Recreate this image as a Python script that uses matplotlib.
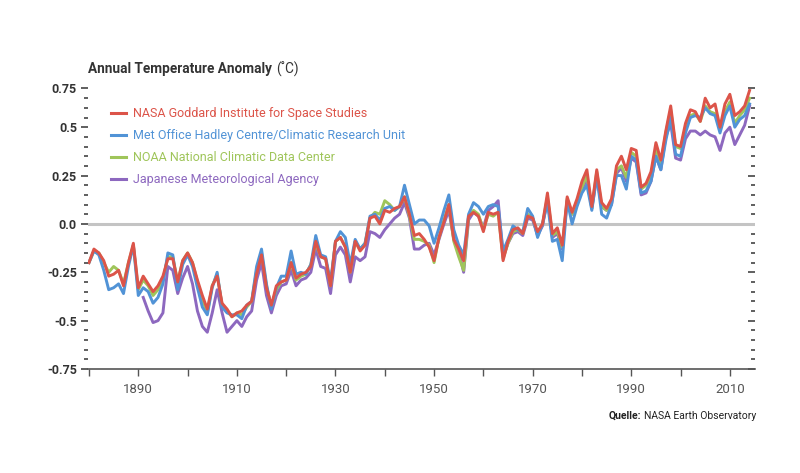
import matplotlib
matplotlib.use("Agg")
import matplotlib.pyplot as plt
import numpy as np
from matplotlib.lines import Line2D

# ---------------- data ----------------
years = list(range(1880, 2015))
jma_years = list(range(1891, 2015))

nasa = [
    -0.20, -0.13, -0.15, -0.19, -0.27, -0.26, -0.24, -0.32, -0.20, -0.10,   # 1880s
    -0.33, -0.27, -0.31, -0.35, -0.32, -0.27, -0.18, -0.18, -0.30, -0.19,   # 1890s
    -0.15, -0.20, -0.29, -0.37, -0.44, -0.32, -0.27, -0.41, -0.44, -0.48,   # 1900s
    -0.46, -0.45, -0.42, -0.40, -0.26, -0.16, -0.33, -0.42, -0.32, -0.30,   # 1910s
    -0.29, -0.20, -0.28, -0.26, -0.25, -0.22, -0.09, -0.17, -0.18, -0.32,   # 1920s
    -0.09, -0.07, -0.12, -0.25, -0.09, -0.14, -0.11, 0.03, 0.04, 0.00,      # 1930s
    0.07, 0.06, 0.08, 0.09, 0.14, 0.05, -0.06, -0.05, -0.08, -0.12,         # 1940s
    -0.19, -0.07, 0.01, 0.10, -0.08, -0.13, -0.19, 0.04, 0.06, 0.04,        # 1950s
    -0.04, 0.06, 0.05, 0.06, -0.19, -0.09, -0.03, -0.02, -0.05, 0.04,       # 1960s
    0.03, -0.04, 0.00, 0.16, -0.05, -0.02, -0.11, 0.14, 0.06, 0.13,         # 1970s
    0.22, 0.28, 0.09, 0.28, 0.11, 0.08, 0.13, 0.30, 0.35, 0.28,             # 1980s
    0.39, 0.38, 0.19, 0.21, 0.27, 0.42, 0.33, 0.48, 0.61, 0.41,             # 1990s
    0.40, 0.52, 0.59, 0.58, 0.53, 0.65, 0.60, 0.62, 0.50, 0.62,             # 2000s
    0.67, 0.56, 0.58, 0.61, 0.69,                                           # 2010s
]

hadley = [
    -0.20, -0.14, -0.16, -0.24, -0.34, -0.33, -0.31, -0.36, -0.22, -0.11,
    -0.37, -0.33, -0.35, -0.41, -0.38, -0.31, -0.15, -0.16, -0.34, -0.21,
    -0.16, -0.22, -0.33, -0.43, -0.47, -0.33, -0.25, -0.43, -0.46, -0.47,
    -0.47, -0.49, -0.42, -0.40, -0.22, -0.13, -0.31, -0.44, -0.33, -0.27,
    -0.27, -0.14, -0.26, -0.25, -0.26, -0.21, -0.06, -0.16, -0.17, -0.30,
    -0.09, -0.04, -0.07, -0.21, -0.08, -0.13, -0.10, 0.04, 0.05, 0.02,
    0.08, 0.09, 0.07, 0.09, 0.20, 0.10, 0.00, 0.02, 0.02, -0.01,
    -0.10, -0.02, 0.07, 0.15, -0.03, -0.11, -0.16, 0.05, 0.11, 0.09,
    0.05, 0.09, 0.10, 0.09, -0.14, -0.08, -0.01, -0.03, -0.04, 0.08,
    0.04, -0.07, 0.00, 0.11, -0.09, -0.08, -0.19, 0.12, 0.00, 0.09,
    0.16, 0.20, 0.07, 0.25, 0.05, 0.03, 0.10, 0.25, 0.25, 0.18,
    0.35, 0.33, 0.16, 0.17, 0.22, 0.35, 0.28, 0.43, 0.55, 0.36,
    0.35, 0.47, 0.55, 0.56, 0.55, 0.60, 0.57, 0.56, 0.47, 0.56,
    0.61, 0.50, 0.54, 0.56, 0.62,
]

noaa = [
    -0.20, -0.14, -0.15, -0.20, -0.25, -0.22, -0.24, -0.31, -0.20, -0.11,
    -0.34, -0.29, -0.32, -0.37, -0.34, -0.29, -0.17, -0.17, -0.30, -0.19,
    -0.15, -0.20, -0.30, -0.39, -0.46, -0.32, -0.26, -0.42, -0.45, -0.48,
    -0.46, -0.47, -0.43, -0.40, -0.24, -0.15, -0.32, -0.43, -0.34, -0.30,
    -0.29, -0.20, -0.29, -0.27, -0.26, -0.21, -0.10, -0.17, -0.18, -0.32,
    -0.09, -0.07, -0.12, -0.25, -0.09, -0.13, -0.10, 0.03, 0.06, 0.05,
    0.12, 0.10, 0.07, 0.09, 0.14, 0.04, -0.08, -0.08, -0.09, -0.11,
    -0.20, -0.07, 0.02, 0.10, -0.09, -0.17, -0.24, 0.04, 0.07, 0.05,
    -0.03, 0.05, 0.04, 0.06, -0.18, -0.10, -0.04, -0.03, -0.05, 0.05,
    0.03, -0.05, 0.00, 0.14, -0.06, -0.04, -0.12, 0.13, 0.05, 0.11,
    0.19, 0.25, 0.08, 0.27, 0.09, 0.07, 0.12, 0.28, 0.30, 0.24,
    0.37, 0.35, 0.18, 0.20, 0.25, 0.39, 0.31, 0.47, 0.59, 0.40,
    0.39, 0.50, 0.56, 0.57, 0.53, 0.61, 0.58, 0.57, 0.49, 0.58,
    0.63, 0.52, 0.56, 0.59, 0.65,
]

jma = [
    -0.38, -0.45, -0.51, -0.50, -0.46, -0.22, -0.24, -0.36, -0.28,          # 1891-1899
    -0.22, -0.31, -0.45, -0.53, -0.56, -0.46, -0.34, -0.46, -0.56, -0.53,
    -0.50, -0.53, -0.48, -0.45, -0.29, -0.20, -0.37, -0.46, -0.37, -0.32,
    -0.31, -0.24, -0.32, -0.29, -0.28, -0.25, -0.13, -0.22, -0.23, -0.36,
    -0.16, -0.12, -0.16, -0.30, -0.17, -0.19, -0.17, -0.04, -0.05, -0.07,
    -0.03, 0.00, 0.03, 0.05, 0.11, 0.03, -0.13, -0.13, -0.11, -0.10,
    -0.16, -0.08, 0.00, 0.07, -0.08, -0.14, -0.25, 0.02, 0.06, 0.04,
    -0.02, 0.07, 0.09, 0.12, -0.17, -0.10, -0.05, -0.04, -0.06, 0.03,
    0.02, -0.06, -0.01, 0.13, -0.07, -0.05, -0.13, 0.12, 0.05, 0.11,
    0.18, 0.23, 0.08, 0.24, 0.09, 0.07, 0.10, 0.26, 0.29, 0.22,
    0.34, 0.32, 0.15, 0.16, 0.22, 0.35, 0.28, 0.45, 0.52, 0.34,
    0.33, 0.44, 0.48, 0.48, 0.46, 0.48, 0.46, 0.45, 0.38, 0.47,
    0.50, 0.41, 0.46, 0.51, 0.61,
]

labels = [
    "NASA Goddard Institute for Space Studies",
    "Met Office Hadley Centre/Climatic Research Unit",
    "NOAA National Climatic Data Center",
    "Japanese Meteorological Agency",
]
colors = ["#dc5449", "#5193d6", "#9fc55a", "#8d68bf"]

ytick_vals = [-0.75, -0.5, -0.25, 0.0, 0.25, 0.5, 0.70]
ytick_labels = ["-0.75", "-0.5", "-0.25", "0.0", "0.25", "0.5", "0.75"]
xtick_major = [1890, 1910, 1930, 1950, 1970, 1990, 2010]
xtick_minor = [1880, 1900, 1920, 1940, 1960, 1980, 2000]

# ---------------- figure ----------------
W, H = 800, 473
fig = plt.figure(figsize=(W / 100, H / 100), dpi=100)
L, R, T, B = 88, 755, 88.5, 369
ax = fig.add_axes([L / W, 1 - B / H, (R - L) / W, (B - T) / H])

FONT = ["Roboto", "DejaVu Sans"]

ax.axhline(0, color="#c4c4c4", lw=2.2, zorder=1)

series = [(jma_years, jma, 3), (years, noaa, 2), (years, hadley, 1), (years, nasa, 0)]
for xs, ys, idx in series:
    ax.plot(xs, ys, color=colors[idx], lw=2.1, zorder=3 + (3 - idx))

ax.set_xlim(1879.8, 2015.1)
ax.set_ylim(-0.75, 0.70)

for s in ["left", "right", "top"]:
    ax.spines[s].set_visible(False)
ax.spines["bottom"].set_color("#555555")
ax.spines["bottom"].set_linewidth(1.2)

# x ticks
ax.set_xticks(xtick_major)
ax.set_xticklabels([str(v) for v in xtick_major], family=FONT, fontsize=9.5,
                   color="#555555")
ax.set_xticks(xtick_minor, minor=True)
ax.tick_params(axis="x", which="both", direction="out", length=5, width=1.0,
               color="#555555", pad=5)

# y ticks (left, outward)
ax.set_yticks(ytick_vals)
ax.set_yticklabels(ytick_labels, family=FONT, fontsize=9, fontweight="bold",
                   color="#333333")
yminor = [round(-0.75 + 0.05 * i, 2) for i in range(30)]
yminor = [v for v in yminor if v <= 0.70 and not any(abs(v - t) < 1e-6 for t in ytick_vals)]
ax.set_yticks(yminor, minor=True)
ax.tick_params(axis="y", which="major", direction="out", length=5, width=1.2,
               color="#444444", pad=3)
ax.tick_params(axis="y", which="minor", direction="out", length=3, width=1.2,
               color="#444444")

# right side ticks (inward)
sec = ax.secondary_yaxis("right")
sec.spines["right"].set_visible(False)
sec.set_yticks(ytick_vals)
sec.set_yticks(yminor, minor=True)
sec.tick_params(axis="y", which="major", direction="in", length=5, width=1.2,
                color="#444444", labelright=False)
sec.tick_params(axis="y", which="minor", direction="in", length=3, width=1.2,
                color="#444444", labelright=False)

# legend
handles = [Line2D([0], [0], color=c, lw=2.2) for c in colors]
leg = ax.legend(handles, labels, loc="upper left",
                bbox_to_anchor=(111 / W, 1 - 107 / H), bbox_transform=fig.transFigure,
                frameon=False, borderpad=0, borderaxespad=0, handlelength=1.2,
                handletextpad=0.55, labelspacing=0.72,
                prop={"family": FONT, "size": 9.0})
for t, c in zip(leg.get_texts(), colors):
    t.set_color(c)

# title
fig.canvas.draw()
r = fig.canvas.get_renderer()
t1 = fig.text(88 / W, 1 - 69 / H, "Annual Temperature Anomaly", family=FONT,
              fontweight="bold", fontsize=9.8, color="#333333", va="center", ha="left")
bb = t1.get_window_extent(r)
fig.text((bb.x1 + 4) / W, 1 - 69 / H, "(\u02daC)", family=FONT, fontsize=9.8,
         color="#333333", va="center", ha="left")

# source
t2 = fig.text(756 / W, 1 - 416 / H, "NASA Earth Observatory", family=FONT,
              fontsize=7.5, color="#222222", va="center", ha="right")
bb2 = t2.get_window_extent(r)
fig.text((bb2.x0 - 3) / W, 1 - 416 / H, "Quelle:", family=FONT, fontsize=7.5,
         fontweight="bold", color="#222222", va="center", ha="right")

fig.savefig("out.png", dpi=100)
